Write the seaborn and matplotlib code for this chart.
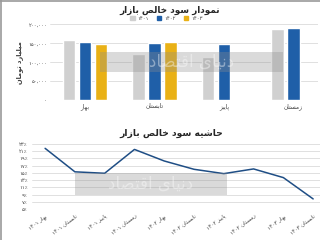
import numpy as np
import pandas as pd
import matplotlib
matplotlib.use('Agg')
import matplotlib.pyplot as plt
import seaborn as sns
from matplotlib.patches import Rectangle
from matplotlib.lines import Line2D

sns.set_style('white')
plt.rcParams['font.family'] = ['DejaVu Sans']

# --- data ---
seasons = ['بهار', 'تابستان', 'پاییز', 'زمستان']
years = ['۱۴۰۱', '۱۴۰۲', '۱۴۰۳']
profit_1401 = [158000, 121000, 113000, 187000]
profit_1402 = [154000, 150000, 149000, 190000]
profit_1403 = [148000, 152500, np.nan, np.nan]
profit_ticks = [0, 50000, 100000, 150000, 200000]

quarters = ['بهار ۱۴۰۱', 'تابستان ۱۴۰۱', 'پاییز ۱۴۰۱', 'زمستان ۱۴۰۱',
            'بهار ۱۴۰۲', 'تابستان ۱۴۰۲', 'پاییز ۱۴۰۲', 'زمستان ۱۴۰۲',
            'بهار ۱۴۰۳', 'تابستان ۱۴۰۳']
margin = [21.8, 15.3, 14.9, 21.5, 18.3, 16.0, 14.8, 16.1, 13.7, 7.8]
margin_ticks = [5, 7, 9, 11, 13, 15, 17, 19, 21, 23]

bar_colors = ['#D0D0D0', '#1F5FA8', '#E9B116']
line_color = '#1F4E85'
grid_color = '#DADADA'

# --- simple arabic shaping (no reshaper lib available) ---
FORMS = {
    'ا': ('\uFE8D', '\uFE8E', None, None),
    'ب': ('\uFE8F', '\uFE90', '\uFE91', '\uFE92'),
    'پ': ('\uFB56', '\uFB57', '\uFB58', '\uFB59'),
    'ت': ('\uFE95', '\uFE96', '\uFE97', '\uFE98'),
    'ح': ('\uFEA1', '\uFEA2', '\uFEA3', '\uFEA4'),
    'خ': ('\uFEA5', '\uFEA6', '\uFEA7', '\uFEA8'),
    'د': ('\uFEA9', '\uFEAA', None, None),
    'ر': ('\uFEAD', '\uFEAE', None, None),
    'ز': ('\uFEAF', '\uFEB0', None, None),
    'س': ('\uFEB1', '\uFEB2', '\uFEB3', '\uFEB4'),
    'ش': ('\uFEB5', '\uFEB6', '\uFEB7', '\uFEB8'),
    'ص': ('\uFEB9', '\uFEBA', '\uFEBB', '\uFEBC'),
    'ق': ('\uFED5', '\uFED6', '\uFED7', '\uFED8'),
    'ل': ('\uFEDD', '\uFEDE', '\uFEDF', '\uFEE0'),
    'م': ('\uFEE1', '\uFEE2', '\uFEE3', '\uFEE4'),
    'ن': ('\uFEE5', '\uFEE6', '\uFEE7', '\uFEE8'),
    'ه': ('\uFEE9', '\uFEEA', '\uFEEB', '\uFEEC'),
    'و': ('\uFEED', '\uFEEE', None, None),
    'ی': ('\uFBFC', '\uFBFD', '\uFBFE', '\uFBFF'),
}


def shape_word(w):
    out = []
    for i, c in enumerate(w):
        if c not in FORMS:
            out.append(c)
            continue
        prev = w[i - 1] if i > 0 else None
        nxt = w[i + 1] if i < len(w) - 1 else None
        jp = prev in FORMS and FORMS[prev][2] is not None
        jn = nxt in FORMS and FORMS[c][2] is not None
        iso, fin, ini, med = FORMS[c]
        if jp and jn:
            out.append(med)
        elif jp:
            out.append(fin)
        elif jn:
            out.append(ini)
        else:
            out.append(iso)
    return ''.join(out)


def fa(text):
    # shape each word, then lay words out right-to-left
    toks = []
    for t in text.split(' '):
        if any(c in FORMS for c in t):
            toks.append(shape_word(t)[::-1])
        else:
            toks.append(t)
    return ' '.join(toks[::-1])


def fa_num(s):
    return str(s).translate(str.maketrans('0123456789%', '۰۱۲۳۴۵۶۷۸۹٪'))


df = pd.DataFrame({
    'season': seasons * 3,
    'year': [years[0]] * 4 + [years[1]] * 4 + [years[2]] * 4,
    'profit': profit_1401 + profit_1402 + profit_1403,
})

fig = plt.figure(figsize=(3.2, 2.4), dpi=100)

# ---------- top: bars ----------
ax1 = fig.add_axes([0.156, 0.583, 0.839, 0.315])
sns.barplot(data=df, x='season', y='profit', hue='year', palette=bar_colors,
            width=0.69, gap=0.22, ax=ax1, legend=False, saturation=1)
ax1.set_xlim(-0.505, 3.36)
ax1.set_ylim(0, 200000)
ax1.set_yticks(profit_ticks)
ax1.set_yticklabels([fa_num(f'{v:,}') if v else '۰' for v in profit_ticks], fontsize=3.8, color='#404040')
ax1.set_xticks(range(len(seasons)))
ax1.set_xticklabels([fa(s) for s in seasons], fontsize=4.2, color='#404040')
ax1.set_xlabel('')
ax1.set_ylabel(fa('میلیارد تومان'), fontsize=4.8, fontweight='bold', color='#404040', labelpad=4)
ax1.yaxis.grid(True, color=grid_color, lw=0.6)
ax1.set_axisbelow(True)
ax1.tick_params(length=0, pad=2)
sns.despine(ax=ax1, left=True, bottom=True)

fig.text(0.53, 0.958, fa('نمودار سود خالص بازار'), ha='center', va='center',
         fontsize=6.4, fontweight='bold', color='#262626')
handles = [Rectangle((0, 0), 1, 1, color=c) for c in bar_colors]
fig.legend(handles, years, loc='center', bbox_to_anchor=(0.52, 0.922), ncol=3,
           frameon=False, fontsize=3.8, handlelength=0.8, handleheight=0.8,
           columnspacing=1.6, handletextpad=0.5, labelcolor='#404040')

# ---------- bottom: line ----------
ax2 = fig.add_axes([0.1, 0.129, 0.9, 0.271])
x_pos = np.arange(len(quarters))
sns.lineplot(x=x_pos, y=margin, ax=ax2, color=line_color, lw=1.1, sort=False)
ax2.set_xlim(-0.44, 9.23)
ax2.set_ylim(5, 23)
ax2.set_yticks(margin_ticks)
ax2.set_yticklabels([fa_num(f'{v}%') for v in margin_ticks], fontsize=3.8, color='#404040')
ax2.set_xticks(x_pos)
ax2.set_xticklabels([fa(q) for q in quarters], fontsize=3.9, color='#404040',
                    rotation=37, ha='right', rotation_mode='anchor')
ax2.yaxis.grid(True, color=grid_color, lw=0.6)
ax2.set_axisbelow(True)
ax2.tick_params(length=0, pad=3)
sns.despine(ax=ax2, left=True, bottom=True)

fig.text(0.534, 0.446, fa('حاشیه سود خالص بازار'), ha='center', va='center',
         fontsize=6.6, fontweight='bold', color='#262626')

# watermark bands
for (x0, y0, w, h) in [(100, 52, 183, 20), (75, 173, 152, 22)]:
    fig.patches.append(Rectangle((x0 / 320, 1 - (y0 + h) / 240), w / 320, h / 240,
                                 transform=fig.transFigure, color='#8C8C8C', alpha=0.32, lw=0))
    fig.text((x0 + w / 2) / 320, 1 - (y0 + h / 2) / 240, fa('دنیای اقتصاد'), ha='center', va='center',
             fontsize=12, color='white', alpha=0.4)

# panel borders
fig.lines.append(Line2D([0.004, 0.004], [0.0, 1.0], transform=fig.transFigure, color='#9A9A9A', lw=1.2))
fig.lines.append(Line2D([0.0, 1.0], [0.996, 0.996], transform=fig.transFigure, color='#9A9A9A', lw=1.2))

fig.savefig('out.png', dpi=100)
